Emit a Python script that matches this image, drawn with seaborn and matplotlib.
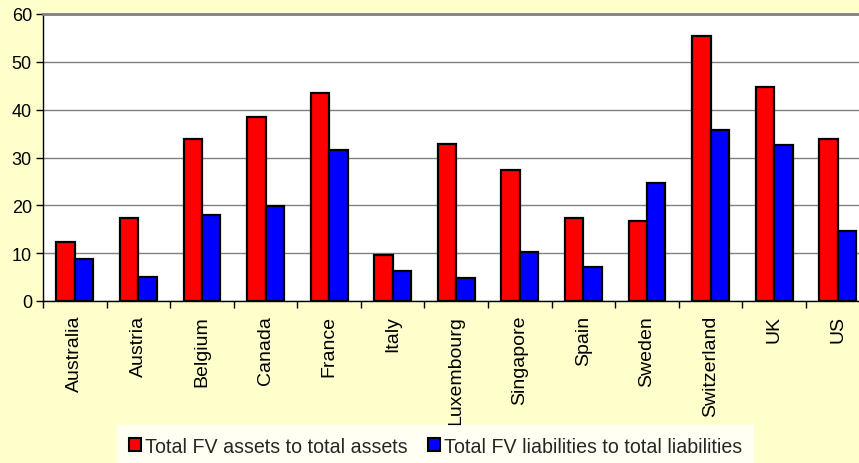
import matplotlib
matplotlib.use("Agg")
import matplotlib.pyplot as plt
import seaborn as sns
import pandas as pd
import numpy as np
from matplotlib.ticker import MultipleLocator, FixedLocator

countries = ["Australia", "Austria", "Belgium", "Canada", "France", "Italy",
             "Luxembourg", "Singapore", "Spain", "Sweden", "Switzerland", "UK", "US"]
assets = [12.3, 17.3, 33.9, 38.4, 43.5, 9.7, 32.9, 27.4, 17.3, 16.8, 55.5, 44.8, 33.8]
liabilities = [8.8, 5.0, 18.0, 19.9, 31.6, 6.3, 4.8, 10.3, 7.2, 24.7, 35.8, 32.6, 14.6]
series_names = ["Total FV assets to total assets", "Total FV liabilities to total liabilities"]

df = pd.DataFrame({
    "country": countries * 2,
    "value": assets + liabilities,
    "series": [series_names[0]] * len(countries) + [series_names[1]] * len(countries),
})

sns.set_theme(style="white")
plt.rcParams['font.family'] = ['Liberation Sans', 'DejaVu Sans']

bg = "#FFFFCC"
fig = plt.figure(figsize=(8.59, 4.64), dpi=100, facecolor=bg)
ax = fig.add_axes([43 / 859, 1 - 302 / 464, 826.5 / 859, 287 / 464])
ax.set_facecolor("white")

sns.barplot(data=df, x="country", y="value", hue="series", order=countries,
            hue_order=series_names, palette=["#FF0000", "#0000FF"], saturation=1,
            width=0.58, edgecolor="black", linewidth=1.6, ax=ax, legend=True)

ax.set_ylim(0, 60)
ax.set_xlim(-0.5, len(countries) - 0.5)
ax.yaxis.set_major_locator(MultipleLocator(10))
ax.grid(axis="y", color="#808080", linewidth=1.0)
ax.set_axisbelow(True)
ax.set_xlabel("")
ax.set_ylabel("")

ax.spines["right"].set_visible(False)
ax.spines["top"].set_color("#808080")
ax.spines["top"].set_linewidth(2)
ax.spines["left"].set_color("black")
ax.spines["bottom"].set_color("black")
ax.spines["left"].set_linewidth(1)
ax.spines["bottom"].set_linewidth(1)

ax.tick_params(axis="y", which="major", left=True, length=5, width=1, color="black",
               labelsize=13, pad=3, labelcolor="black")
ax.set_xticks(range(len(countries)))
ax.set_xticklabels(countries, rotation=90, fontsize=14, color="black")
ax.tick_params(axis="x", which="major", length=0, pad=10)
ax.xaxis.set_minor_locator(FixedLocator(np.arange(-0.5, len(countries), 1.0)))
ax.tick_params(axis="x", which="minor", bottom=True, length=5, width=1, color="black")

ax.get_legend().remove()
handles = [plt.Rectangle((0, 0), 1, 1, facecolor=c, edgecolor="black", linewidth=1.5)
           for c in ["#FF0000", "#0000FF"]]
leg = fig.legend(handles, series_names, loc="upper left",
                 bbox_to_anchor=(117 / 859, 1 - 426 / 464), borderaxespad=0,
                 ncol=2, frameon=True, fontsize=14.1, handlelength=0.65, handleheight=0.65,
                 handletextpad=0.2, columnspacing=1.0, borderpad=0.6, fancybox=False)
leg.get_frame().set_facecolor("white")
leg.get_frame().set_edgecolor("white")
leg.get_frame().set_linewidth(0)

fig.savefig("out.png", dpi=100, facecolor=bg)
